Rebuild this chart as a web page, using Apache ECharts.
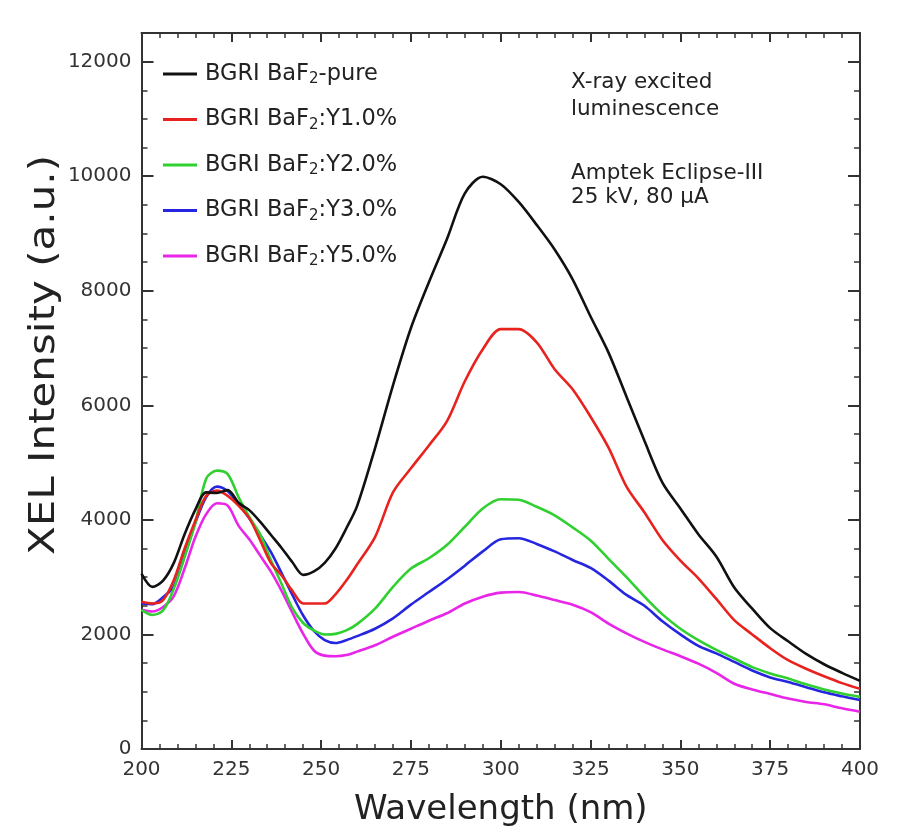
<!DOCTYPE html>
<html>
<head>
<meta charset="utf-8">
<script src="https://cdn.jsdelivr.net/npm/echarts@6/dist/echarts.min.js"></script>
<style>html,body{margin:0;padding:0;background:#fff}#c{width:908px;height:836px}</style>
</head>
<body>
<div id="c"></div>
<script>
const wavelength = [200,203,206,209,212,215,218,221,224,227,230,233,236,239,242,245,248,251,254,257,260,265,270,275,280,285,290,295,300,305,310,315,320,325,330,335,340,345,350,355,360,365,370,375,380,385,390,395,400];
const pure = [3060,2830,2940,3250,3750,4180,4480,4470,4520,4300,4170,3970,3740,3510,3260,3040,3100,3250,3500,3850,4240,5250,6350,7350,8150,8900,9700,9990,9860,9550,9150,8720,8200,7550,6920,6150,5380,4650,4200,3750,3360,2820,2450,2110,1880,1660,1480,1330,1190];
const y1 = [2570,2540,2600,2950,3500,3990,4420,4510,4420,4250,4030,3650,3250,3030,2760,2540,2540,2540,2700,2940,3220,3700,4480,4900,5300,5720,6420,6980,7330,7330,7100,6630,6280,5800,5260,4580,4130,3650,3290,2980,2620,2250,2000,1760,1550,1400,1270,1150,1050];
const y2 = [2430,2340,2420,2800,3350,3950,4720,4860,4800,4400,4050,3750,3300,2880,2460,2200,2070,2000,2010,2070,2180,2450,2830,3150,3330,3560,3880,4200,4360,4350,4230,4080,3870,3640,3320,3000,2660,2350,2100,1900,1730,1580,1430,1320,1230,1130,1040,970,910];
const y3 = [2540,2530,2650,2840,3380,3950,4400,4580,4500,4280,4030,3740,3440,3070,2690,2330,2060,1900,1850,1900,1970,2100,2280,2520,2740,2960,3200,3450,3660,3680,3580,3450,3300,3160,2940,2690,2500,2230,2000,1800,1670,1520,1370,1250,1170,1080,990,920,855];
const y5 = [2430,2400,2480,2670,3150,3700,4100,4290,4250,3900,3660,3380,3100,2760,2380,2010,1720,1630,1620,1640,1700,1810,1960,2100,2240,2370,2540,2660,2730,2740,2680,2600,2520,2390,2190,2020,1870,1740,1620,1490,1330,1140,1040,960,880,820,780,710,650];
const seriesNames = ['pure','Y1.0','Y2.0','Y3.0','Y5.0'];
const legendSuffix = ['-pure',':Y1.0%',':Y2.0%',':Y3.0%',':Y5.0%'];
const colors = ['#111111','#e8231f','#2fd02f','#2626e0','#e825e8'];
const allData = [pure,y1,y2,y3,y5];

const chart = echarts.init(document.getElementById('c'));
const font = 'DejaVu Sans, Liberation Sans, Arial, sans-serif';
const axisLineStyle = {color:'#333', width:2};

const series = allData.map((d,i)=>({
  name: seriesNames[i],
  type:'line',
  data: wavelength.map((w,j)=>[w,d[j]]),
  showSymbol:false,
  smooth:0.3,
  lineStyle:{color:colors[i], width:2.6},
  itemStyle:{color:colors[i]},
  z: 10 - i
}));

const legendMap = {};
seriesNames.forEach((n,i)=>{legendMap[n]=legendSuffix[i];});

chart.setOption({
  backgroundColor:'#fff',
  animation:false,
  grid:{left:141.5, top:33, right:48, bottom:87},
  legend:{
    orient:'vertical', left:158, top:54,
    itemWidth:34, itemHeight:3, itemGap:17.5,
    icon:'rect',
    data: seriesNames,
    formatter: n => '{a|BGRI BaF}{s|2}{a|' + legendMap[n] + '}',
    textStyle:{
      fontFamily:font, fontSize:22.5, color:'#222', padding:[0,0,0,3],
      rich:{
        a:{fontFamily:font, fontSize:22.5, color:'#222', lineHeight:26},
        s:{fontFamily:font, fontSize:15, color:'#222', lineHeight:26, verticalAlign:'bottom', padding:[13,0,0,0]}
      }
    }
  },
  xAxis:[{
    type:'value', min:200, max:400, interval:25,
    name:'Wavelength (nm)', nameLocation:'middle', nameGap:44,
    nameTextStyle:{fontFamily:font, fontSize:34, color:'#222'},
    axisLine:{show:true, onZero:false, lineStyle:axisLineStyle},
    axisTick:{show:true, inside:true, length:9, lineStyle:{color:'#333', width:2}},
    minorTick:{show:true, splitNumber:5, length:5, lineStyle:{color:'#333', width:1.5}},
    axisLabel:{fontFamily:font, fontSize:20, color:'#333', margin:11},
    splitLine:{show:false}
  },{
    type:'value', min:200, max:400, interval:25, position:'top',
    axisLine:{show:true, onZero:false, lineStyle:axisLineStyle},
    axisTick:{show:true, inside:true, length:9, lineStyle:{color:'#333', width:2}},
    minorTick:{show:true, splitNumber:5, length:5, lineStyle:{color:'#333', width:1.5}},
    axisLabel:{show:false}, splitLine:{show:false}
  }],
  yAxis:[{
    type:'value', min:0, max:12500, interval:2000,
    axisLine:{show:true, onZero:false, lineStyle:axisLineStyle},
    axisTick:{show:true, inside:true, length:12, lineStyle:{color:'#333', width:2}},
    minorTick:{show:true, splitNumber:4, length:6, lineStyle:{color:'#333', width:1.5}},
    axisLabel:{fontFamily:font, fontSize:20, color:'#333', margin:10, showMaxLabel:false, formatter: v => String(v)},
    splitLine:{show:false}
  },{
    type:'value', min:0, max:12500, interval:2000, position:'right',
    axisLine:{show:true, onZero:false, lineStyle:axisLineStyle},
    axisTick:{show:true, inside:true, length:12, lineStyle:{color:'#333', width:2}},
    minorTick:{show:true, splitNumber:4, length:6, lineStyle:{color:'#333', width:1.5}},
    axisLabel:{show:false}, splitLine:{show:false}
  }],
  graphic:[
    {type:'text', x:45, y:355, rotation:Math.PI/2, scaleX:1.2, style:{text:'XEL Intensity (a.u.)', font:'35px DejaVu Sans, Liberation Sans, sans-serif', fill:'#222', align:'center', verticalAlign:'middle'}},
    {type:'text', left:571, top:69, style:{text:'X-ray excited\nluminescence', font:'21.5px DejaVu Sans, Liberation Sans, sans-serif', fill:'#222', lineHeight:27}},
    {type:'text', left:571, top:161, style:{text:'Amptek Eclipse-III\n25 kV, 80 \u00b5A', font:'21.5px DejaVu Sans, Liberation Sans, sans-serif', fill:'#222', lineHeight:24}}
  ],
  series: series
});
</script>
</body>
</html>
